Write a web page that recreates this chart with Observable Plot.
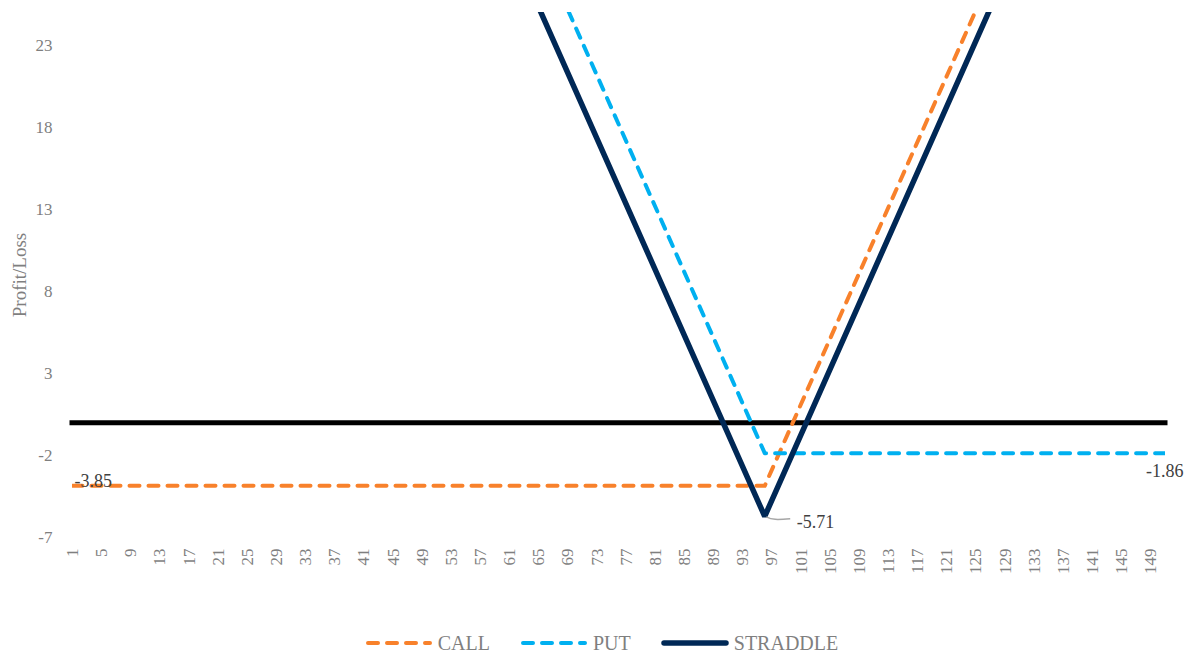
<!DOCTYPE html>
<html><head><meta charset="utf-8">
<script src="https://cdn.jsdelivr.net/npm/d3@7"></script>
<script src="https://cdn.jsdelivr.net/npm/@observablehq/plot@0.6"></script>
<style>
body{margin:0;background:#fff;font-family:'Liberation Serif','Times New Roman',serif;}
#legend{display:flex;justify-content:center;align-items:center;height:46px;padding-left:14px;font-size:20px;color:#7f7f7f;}
.item{display:flex;align-items:center;margin:0 15px;}
.item svg{margin-right:5px;}
svg text{font-family:'Liberation Serif','Times New Roman',serif;}
</style></head><body><div id="chart"></div><div id="legend"></div>
<script>
// Series breakpoints (x = price, y = profit/loss), visible segments
const callX = [1, 96, 126];
const callY = [-3.85, -3.85, 26.15];
const putX = [68, 96, 151];
const putY = [26.14, -1.86, -1.86];
const straddleX = [65, 96, 127];
const straddleY = [25.29, -5.71, 25.29];
const xTicks = [1,5,9,13,17,21,25,29,33,37,41,45,49,53,57,61,65,69,73,77,81,85,89,93,97,101,105,109,113,117,121,125,129,133,137,141,145,149];
const yTicks = [-7, -2, 3, 8, 13, 18, 23];
const seriesNames = ["CALL", "PUT", "STRADDLE"];
const colors = {CALL: "#F8812B", PUT: "#00B0F0", STRADDLE: "#002856"};
const labels = [
  {x: 1, y: -3.85, text: "-3.85"},
  {x: 96, y: -5.71, text: "-5.71"},
  {x: 151, y: -1.86, text: "-1.86"}
];

const toRows = (xs, ys) => xs.map((x, i) => ({x, y: ys[i]}));
const callData = toRows(callX, callY);
const putData = toRows(putX, putY);
const straddleData = toRows(straddleX, straddleY);
const fmt = d => String(d);

const chart = Plot.plot({
  width: 1189, height: 620,
  marginLeft: 72, marginRight: 24, marginTop: 12, marginBottom: 83,
  style: {fontFamily: "'Liberation Serif', serif", fontSize: "16px", color: "#7f7f7f", background: "#fff"},
  x: {type: "linear", domain: [1, 151]},
  y: {domain: [-7, 25]},
  marks: [
    Plot.axisY({ticks: yTicks, tickSize: 0, tickPadding: 20, label: null, tickFormat: fmt, fill: "#7f7f7f", fontSize: 17}),
    Plot.axisX({ticks: xTicks, tickSize: 0, tickPadding: 11, tickRotate: -90, label: null, tickFormat: fmt, fill: "#7f7f7f", fontSize: 17}),
    Plot.text(["Profit/Loss"], {frameAnchor: "left", textAnchor: "middle", dx: -53, dy: 0, rotate: -90, fill: "#7f7f7f", fontSize: 19}),
    Plot.ruleY([0], {x1: 1, x2: 151, stroke: "#000", strokeWidth: 5, strokeLinecap: "square"}),
    Plot.line(callData, {x: "x", y: "y", stroke: colors.CALL, strokeWidth: 4, strokeDasharray: "10,9", strokeLinecap: "round", clip: true}),
    Plot.line(putData, {x: "x", y: "y", stroke: colors.PUT, strokeWidth: 4, strokeDasharray: "10,9", strokeLinecap: "round", clip: true}),
    Plot.line(straddleData, {x: "x", y: "y", stroke: colors.STRADDLE, strokeWidth: 5.5, strokeLinejoin: "miter", strokeLinecap: "butt", clip: true}),
    (index, scales) => {
      const px = scales.x(labels[1].x), py = scales.y(labels[1].y);
      const p = document.createElementNS("http://www.w3.org/2000/svg", "path");
      p.setAttribute("d", `M${px+2},${py+1} C${px+8},${py+4} ${px+12},${py+4} ${px+26},${py+3}`);
      p.setAttribute("fill", "none");
      p.setAttribute("stroke", "#a6a6a6");
      p.setAttribute("stroke-width", "1.5");
      return p;
    },
    Plot.text([labels[0]], {x: "x", y: "y", text: "text", textAnchor: "start", dx: 2, dy: -5, fill: "#404040", fontSize: 18}),
    Plot.text([labels[1]], {x: "x", y: "y", text: "text", textAnchor: "start", dx: 32, dy: 6, fill: "#404040", fontSize: 18}),
    Plot.text([labels[2]], {x: "x", y: "y", text: "text", textAnchor: "end", dx: 18, dy: 18, fill: "#404040", fontSize: 18})
  ]
});
document.getElementById("chart").appendChild(chart);

const legend = document.getElementById("legend");
seriesNames.forEach(name => {
  const item = document.createElement("div");
  item.className = "item";
  const dashed = name !== "STRADDLE";
  item.innerHTML = `<svg width="68" height="10"><line x1="3" y1="5" x2="65" y2="5" stroke="${colors[name]}" stroke-width="${dashed ? 4 : 5.5}" stroke-linecap="round" ${dashed ? 'stroke-dasharray="10,9"' : ''}/></svg><span>${name}</span>`;
  legend.appendChild(item);
});
</script></body></html>
